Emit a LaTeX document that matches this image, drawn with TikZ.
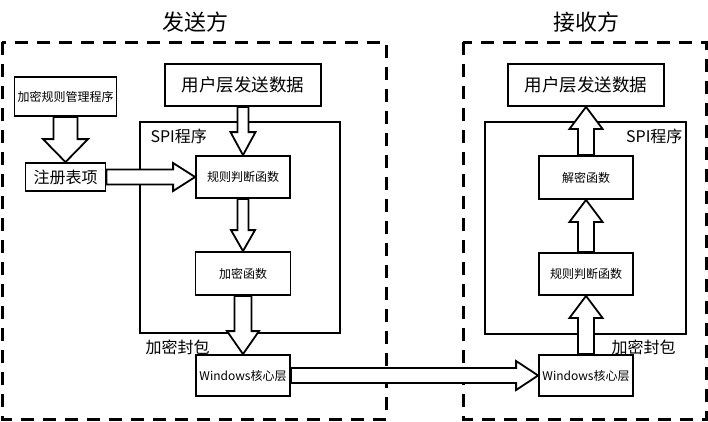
\documentclass[tikz,border=0pt]{standalone}
\usepackage{fontspec}
\setmainfont{Noto Sans CJK SC}
\usetikzlibrary{calc}
\newcommand{\fs}[1]{\fontsize{#1}{#1}\selectfont}
\newcommand{\blockarr}[5]{%
  \draw[arrowbox] ($(#1)!#3!90:(#2)$) -- ($($(#2)!#5!(#1)$)!#3!-90:(#1)$)
    -- ($($(#2)!#5!(#1)$)!#4!-90:(#1)$) -- (#2)
    -- ($($(#2)!#5!(#1)$)!#4!90:(#1)$) -- ($($(#2)!#5!(#1)$)!#3!90:(#1)$)
    -- ($(#1)!#3!-90:(#2)$) -- cycle;}
\begin{document}
\begin{tikzpicture}[x=1pt,y=-1pt,
  box/.style={draw,line width=1.8pt,inner sep=0pt,align=center},
  frame/.style={draw,line width=3pt,dash pattern=on 13pt off 9pt},
  arrowbox/.style={draw,fill=white,line width=1.8pt,line join=miter},
  small/.style={font=\fs{12}},
  mid/.style={font=\fs{16}},
  big/.style={font=\fs{17.5}},
  title/.style={font=\fs{22}}]
\useasboundingbox (0,0) rectangle (708,421);
% frames
\draw[frame] (2,42) rectangle (386,419);
\draw[frame] (463,42) rectangle (706.5,419);
\node[title] (t1) at (195,22) {发送方};
\node[title] (t2) at (586,22) {接收方};
% sender
\node[box,minimum width=200pt,minimum height=211pt] (spi1) at (240,227.5) {};
\node[mid,anchor=west] (spil1) at (147,136) {SPI程序};
\node[box,small,minimum width=102pt,minimum height=39pt] (mgr) at (65.5,96.5) {加密规则管理程序};
\node[box,big,minimum width=156pt,minimum height=42pt] (user1) at (243,85) {用户层发送数据};
\node[box,mid,minimum width=80pt,minimum height=28pt] (reg) at (65.5,177) {注册表项};
\node[box,small,minimum width=94pt,minimum height=42pt] (rule1) at (243,177) {规则判断函数};
\node[box,small,minimum width=95pt,minimum height=43pt] (enc) at (243,273.5) {加密函数};
\node[box,small,minimum width=94pt,minimum height=41pt] (win1) at (243,375.5) {Windows核心层};
\node[mid] (pk1) at (177.5,347) {加密封包};
% receiver
\node[box,minimum width=201pt,minimum height=212pt] (spi2) at (585.5,228) {};
\node[mid,anchor=east] (spil2) at (686,136) {SPI程序};
\node[box,big,minimum width=156pt,minimum height=42pt] (user2) at (586,85) {用户层发送数据};
\node[box,small,minimum width=94pt,minimum height=43pt] (dec) at (586,177.5) {解密函数};
\node[box,small,minimum width=94pt,minimum height=42pt] (rule2) at (586,274) {规则判断函数};
\node[box,small,minimum width=94pt,minimum height=41pt] (win2) at (586,375.5) {Windows核心层};
\node[mid] (pk2) at (643.5,347) {加密封包};
% block arrows
\blockarr{mgr.south}{reg.north}{12pt}{22.5pt}{23pt}
\blockarr{user1.south}{rule1.north}{5.5pt}{12.5pt}{23pt}
\blockarr{reg.east}{rule1.west}{7.5pt}{14pt}{22pt}
\blockarr{rule1.south}{enc.north}{5.5pt}{12pt}{21pt}
\blockarr{enc.south}{win1.north}{8.5pt}{16pt}{23pt}
\blockarr{win1.east}{win2.west}{7.5pt}{14.5pt}{22pt}
\blockarr{win2.north}{rule2.south}{8pt}{16.5pt}{22pt}
\blockarr{rule2.north}{dec.south}{8pt}{16.5pt}{22pt}
\blockarr{dec.north}{user2.south}{8pt}{16.5pt}{22pt}
\end{tikzpicture}
\end{document}
